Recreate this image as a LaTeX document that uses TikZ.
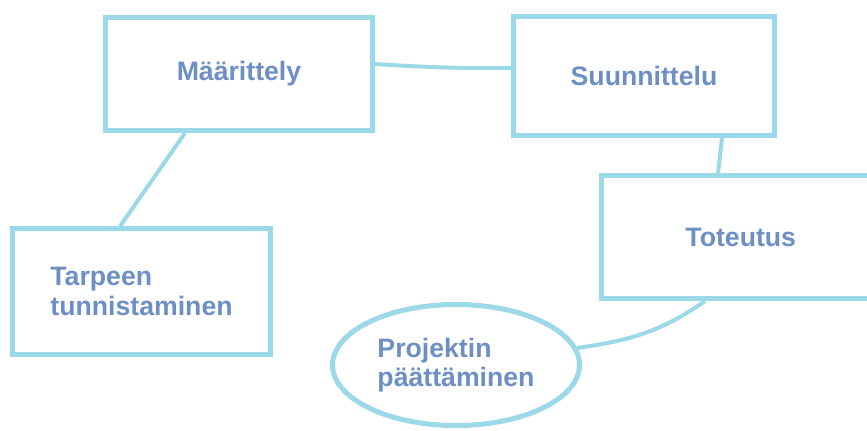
\documentclass[tikz,border=0pt]{standalone}
\usepackage{fontspec}
\setmainfont{Liberation Sans}
\usetikzlibrary{positioning, shapes.geometric}
\definecolor{reuna}{RGB}{155,216,232}
\definecolor{teksti}{RGB}{110,143,196}
\tikzset{
  vaihe/.style={
    draw=reuna, line width=3.75pt, rectangle, text=teksti,
    font=\bfseries\fontsize{20}{22}\selectfont, align=left
  },
  yhteys/.style={draw=reuna, line width=3pt},
  x=0.75pt, y=-0.75pt
}

\begin{document}
\begin{tikzpicture}
  \clip (0,0) rectangle (867,430);
  \fill[white] (0,0) rectangle (867,430);

  \node[vaihe, minimum width=200.25pt, minimum height=84.75pt] (maar) at (239,74) {Määrittely};
  \node[vaihe, minimum width=195.75pt, minimum height=89.25pt] (suun) at (644,76) {Suunnittelu};
  \node[vaihe, minimum width=209pt, minimum height=92.25pt] (tote) at (740.75,237) {Toteutus};
  \node[vaihe, minimum width=193.5pt, minimum height=94.5pt] (tarve) at (141.5,291.5) {Tarpeen\\tunnistaminen};
  \node[vaihe, ellipse, minimum width=185.25pt, minimum height=90.75pt] (loppu) at (456,365) {Projektin\\päättäminen};

  % yhteydet
  \path[yhteys] ([yshift=7.5pt]maar.east) to[bend right=2] ([yshift=6pt]suun.west);
  \path[yhteys] ([xshift=-40.5pt]maar.south) -- ([xshift=-16pt]tarve.north);
  \path[yhteys] ([xshift=58.5pt]suun.south) -- ([xshift=-17pt]tote.north);
  \path[yhteys] (loppu.8) to[out=8, in=215] ([xshift=-26.8pt]tote.south);
\end{tikzpicture}
\end{document}
